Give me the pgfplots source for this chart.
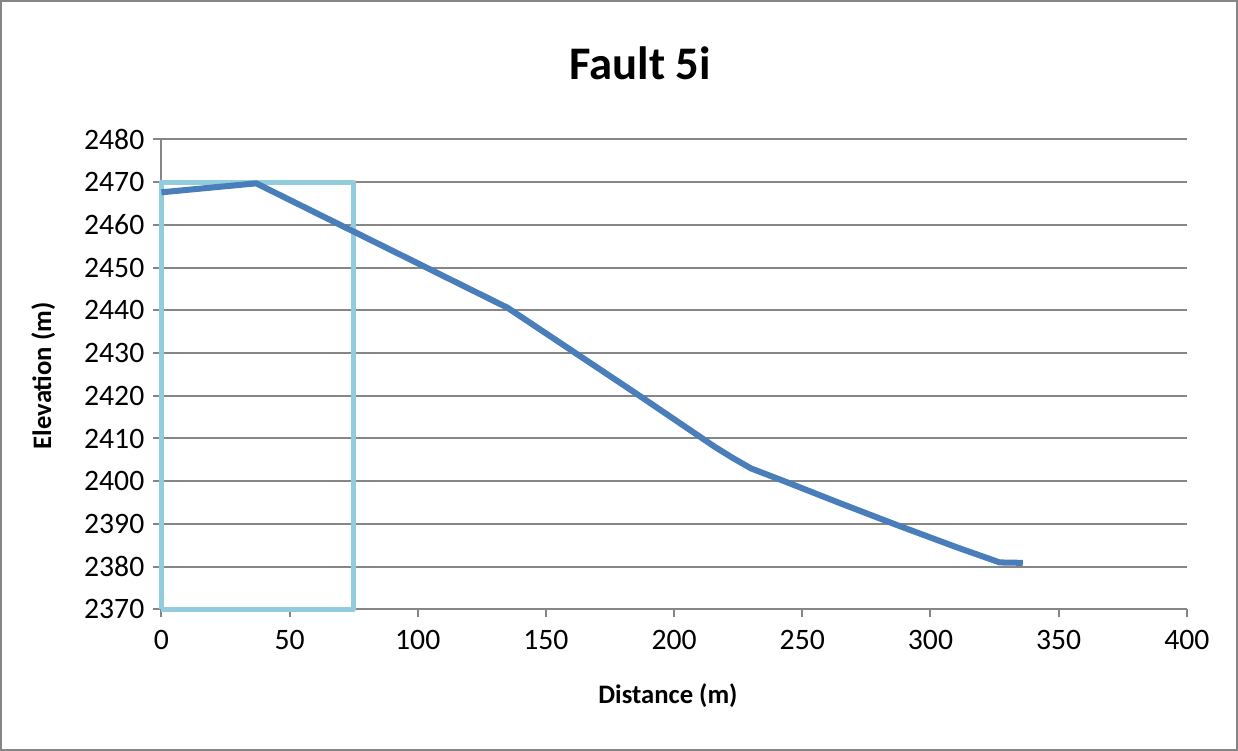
\documentclass[border=0pt]{standalone}
\usepackage{pgfplots}
\pgfplotsset{compat=1.18}
\usepackage{fontspec}
\setmainfont{Carlito}

\definecolor{serieblue}{HTML}{4A7EBB}
\definecolor{boxblue}{HTML}{93CDDD}
\definecolor{gridgray}{HTML}{868686}

\begin{document}
\begin{tikzpicture}
\begin{axis}[
    scale only axis,
    width=511.5pt, height=234.5pt,
    xmin=0, xmax=400,
    ymin=2370, ymax=2480,
    xtick={0,50,...,400},
    ytick={2370,2380,...,2480},
    axis x line=bottom,
    axis y line=left,
    axis line style={gridgray, line width=1pt, -},
    ymajorgrids=true,
    grid style={gridgray, line width=1pt},
    tick align=outside,
    major tick length=4pt,
    tick style={gridgray, line width=1pt},
    ticklabel style={font=\fontsize{14.8}{16}\selectfont, black},
    /pgf/number format/assume math mode=true,
    /pgf/number format/1000 sep={},
    xticklabel style={yshift=-3pt},
    yticklabel style={xshift=-1pt},
    clip=false,
]
% highlighted window
\addplot[boxblue, line width=2.5pt, line join=round] coordinates {
    (0,2370) (0,2470) (75,2470) (75,2370) (0,2370)
};
% fault profile
\addplot[serieblue, line width=3pt, line join=round] coordinates {
    (0,2467.6) (37,2469.7) (135,2440.6) (185,2420.6) (216,2408.0)
    (223,2405.4) (230,2403.0) (243,2400.0) (265,2394.8) (288,2389.5)
    (310,2384.6) (327,2381.0) (336,2380.9)
};
% chart frame
\draw[gridgray, line width=1pt] (rel axis cs:-0.1564,-0.2985) rectangle (rel axis cs:1.0489,1.2942);
% title and labels
\node[font=\fontsize{23.3}{26}\selectfont\bfseries] at (rel axis cs:0.467,1.162) {Fault 5i};
\node[font=\fontsize{13.3}{15}\selectfont\bfseries] at (rel axis cs:0.494,-0.183) {Distance (m)};
\node[font=\fontsize{13.3}{15}\selectfont\bfseries, rotate=90] at (rel axis cs:-0.1153,0.497) {Elevation (m)};
\end{axis}
\end{tikzpicture}
\end{document}
